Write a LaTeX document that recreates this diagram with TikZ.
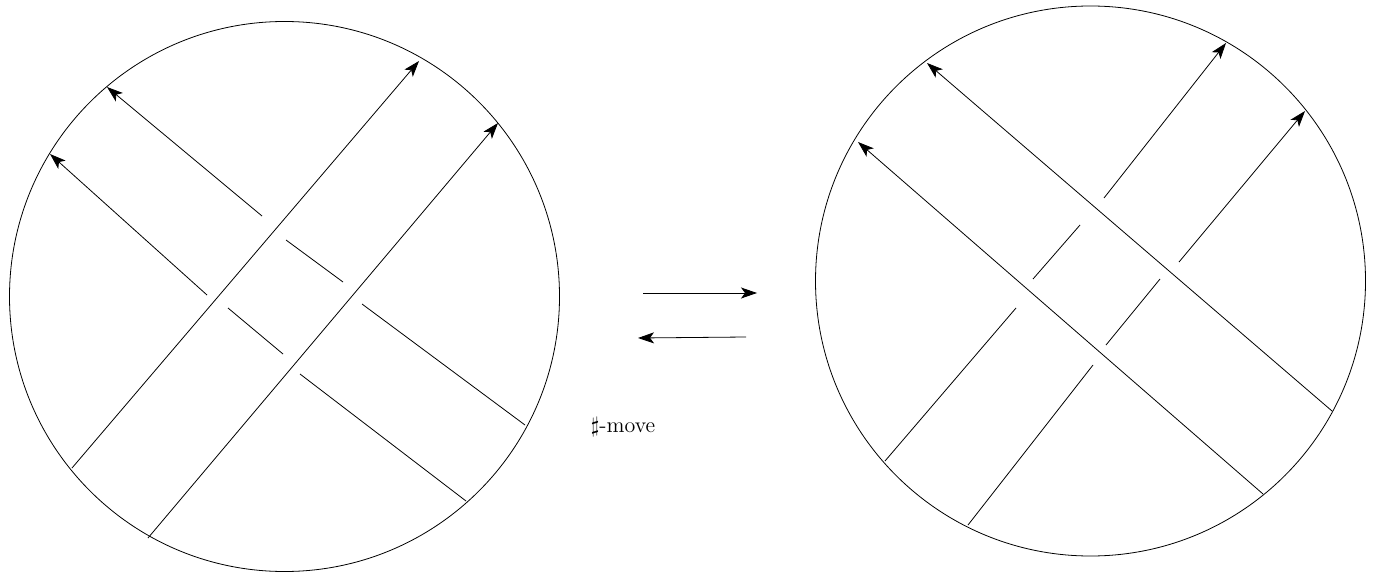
\documentclass[tikz,border=0pt]{standalone}
\usepackage{amsmath,amssymb}
\usetikzlibrary{arrows.meta}
\tikzset{strand/.style={line width=0.4pt},
  arc/.style={strand,-{Stealth[length=8pt,width=5.5pt,inset=2pt]}}}

\begin{document}
\begin{tikzpicture}[x=0.5pt,y=-0.5pt]
      \useasboundingbox (0,0) rectangle (1374,572);
      % left disc
      \draw[strand] (284.5,296.5) circle (137.5pt);
      \draw[arc] (72,468) -- (419,61);
      \draw[arc] (148,538) -- (498,123);
      \draw[strand] (525,425) -- (362,304);
      \draw[strand] (343,282) -- (286,240);
      \draw[arc] (262,216) -- (107,87);
      \draw[strand] (466,501) -- (300,374);
      \draw[strand] (283,354) -- (228,308);
      \draw[arc] (207,295) -- (50,154);
      % right disc
      \draw[strand] (1090.5,281) circle (137.5pt);
      \draw[arc] (1332,411) -- (927,63);
      \draw[arc] (1263,494) -- (858,142);
      \draw[strand] (885,461) -- (1016,308);
      \draw[strand] (1033,279) -- (1080,225);
      \draw[arc] (1104,198) -- (1226,43);
      \draw[strand] (968,525) -- (1093,365);
      \draw[strand] (1106,345) -- (1160,279);
      \draw[arc] (1179,262) -- (1305,111);
      % move
      \coordinate (fwda) at (643,293);
      \coordinate (fwdb) at (757,293);
      \coordinate (bwda) at (746,337);
      \coordinate (bwdb) at (638,338);
      \draw[arc] (fwda) -- (fwdb);
      \draw[arc] (bwda) -- (bwdb);
      \node (movelabel) at (623,427) {\fontsize{11}{13}\selectfont $\sharp$-move};
    \end{tikzpicture}
\end{document}
